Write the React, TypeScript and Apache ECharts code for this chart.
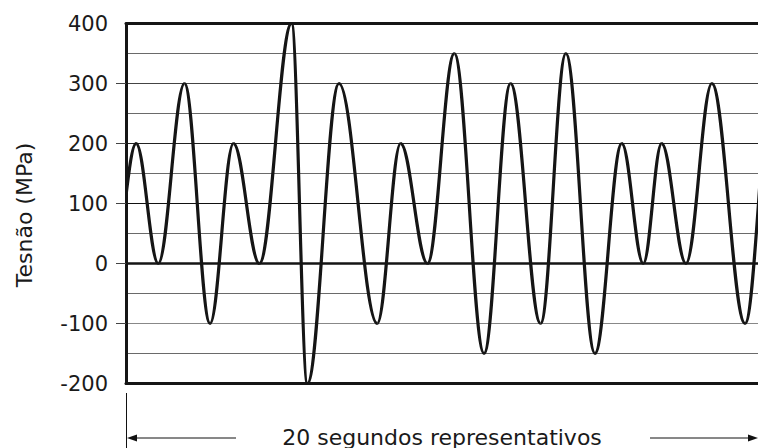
import React, { useEffect, useRef } from "react";
import * as echarts from "echarts";

// Turning points of the stress history (time in s, stress in MPa)
const extremaTime = [
  -0.38, 0.32, 1.02, 1.85, 2.66, 3.4, 4.22, 5.24, 5.74, 6.74, 7.95, 8.69, 9.54,
  10.39, 11.33, 12.17, 13.12, 13.92, 14.84, 15.69, 16.37, 16.95, 17.72, 18.54,
  19.59, 20.44,
];
const extremaStress = [
  0, 200, 0, 300, -100, 200, 0, 400, -200, 300, -100, 200, 0, 350, -150, 300,
  -100, 350, -150, 200, 0, 200, 0, 300, -100, 300,
];
const yTickValues = [-100, 0, 100, 200, 300];
const yTitle = "Tesnão (MPa)";
const spanText = "20 segundos representativos";

const FONT = "DejaVu Sans";

export default function App() {
  const ref = useRef<HTMLDivElement>(null);

  useEffect(() => {
    if (!ref.current) return;
    const chart = echarts.init(ref.current, null, { renderer: "svg" });

    const segments = extremaTime.slice(0, -1).map((t, i) => [
      t,
      extremaStress[i],
      extremaTime[i + 1],
      extremaStress[i + 1],
    ]);

    const K = 0.3634;

    chart.setOption({
      animation: false,
      backgroundColor: "#ffffff",
      grid: { left: 126, right: 0, top: 23.5, bottom: 64.5, show: false },
      xAxis: [
        {
          type: "value",
          min: 0,
          max: 20,
          position: "bottom",
          axisLine: { show: true, onZero: false, lineStyle: { color: "#151515", width: 3 } },
          axisTick: { show: false },
          axisLabel: { show: false },
          splitLine: { show: false },
        },
        {
          type: "value",
          min: 0,
          max: 20,
          position: "top",
          axisLine: { show: true, onZero: false, lineStyle: { color: "#151515", width: 3 } },
          axisTick: { show: false },
          axisLabel: { show: false },
          splitLine: { show: false },
        },
      ],
      yAxis: {
        type: "value",
        min: -200,
        max: 400,
        interval: 100,
        axisLine: { show: true, lineStyle: { color: "#151515", width: 3 } },
        axisTick: {
          show: true,
          length: 10,
          customValues: yTickValues,
          lineStyle: { color: "#444", width: 1 },
        },
        axisLabel: {
          margin: 18,
          color: "#1a1a1a",
          fontFamily: FONT,
          fontSize: 21,
        },
        splitLine: {
          show: true,
          lineStyle: {
            width: 1,
            color: ["#888", "#888", "#111", "#222", "#444", "#888", "#888"],
          },
        },
        minorTick: { show: false, splitNumber: 2 },
        minorSplitLine: {
          show: true,
          lineStyle: { width: 1, color: "#6a6a6a" },
        },
      },
      graphic: [
        {
          type: "text",
          x: 24,
          y: 215,
          rotation: Math.PI / 2,
          style: {
            text: yTitle,
            fontFamily: FONT,
            fontSize: 22,
            fill: "#1a1a1a",
            align: "center",
            verticalAlign: "middle",
          },
        },
        {
          type: "line",
          shape: { x1: 126.5, y1: 393, x2: 126.5, y2: 448 },
          style: { stroke: "#111", lineWidth: 1 },
        },
        {
          type: "line",
          shape: { x1: 130, y1: 438, x2: 236, y2: 438 },
          style: { stroke: "#111", lineWidth: 1 },
        },
        {
          type: "polygon",
          shape: { points: [[127, 438], [137, 434.5], [137, 441.5]] },
          style: { fill: "#111" },
        },
        {
          type: "line",
          shape: { x1: 650, y1: 438, x2: 752, y2: 438 },
          style: { stroke: "#111", lineWidth: 1 },
        },
        {
          type: "polygon",
          shape: { points: [[758, 438], [748, 434.5], [748, 441.5]] },
          style: { fill: "#111" },
        },
        {
          type: "text",
          x: 442,
          y: 437,
          style: {
            text: spanText,
            fontFamily: FONT,
            fontSize: 22,
            fill: "#1a1a1a",
            align: "center",
            verticalAlign: "middle",
          },
        },
      ],
      series: [
        {
          type: "custom",
          clip: true,
          encode: { x: [0, 2], y: [1, 3] },
          data: segments,
          renderItem: (params: any, api: any) => {
            const p0 = api.coord([api.value(0), api.value(1)]);
            const p1 = api.coord([api.value(2), api.value(3)]);
            const dx = p1[0] - p0[0];
            return {
              type: "bezierCurve",
              shape: {
                x1: p0[0],
                y1: p0[1],
                x2: p1[0],
                y2: p1[1],
                cpx1: p0[0] + K * dx,
                cpy1: p0[1],
                cpx2: p1[0] - K * dx,
                cpy2: p1[1],
              },
              style: { stroke: "#151515", lineWidth: 3.2, fill: null },
            };
          },
          markLine: {
            silent: true,
            symbol: ["none", "none"],
            label: { show: false },
            lineStyle: { color: "#151515", width: 2.5, type: "solid" },
            data: [{ yAxis: 0 }],
          },
          z: 5,
        },
      ],
    });

    return () => chart.dispose();
  }, []);

  return (
    <div
      ref={ref}
      style={{ position: "fixed", left: 0, top: 0, width: 758, height: 448 }}
    />
  );
}
